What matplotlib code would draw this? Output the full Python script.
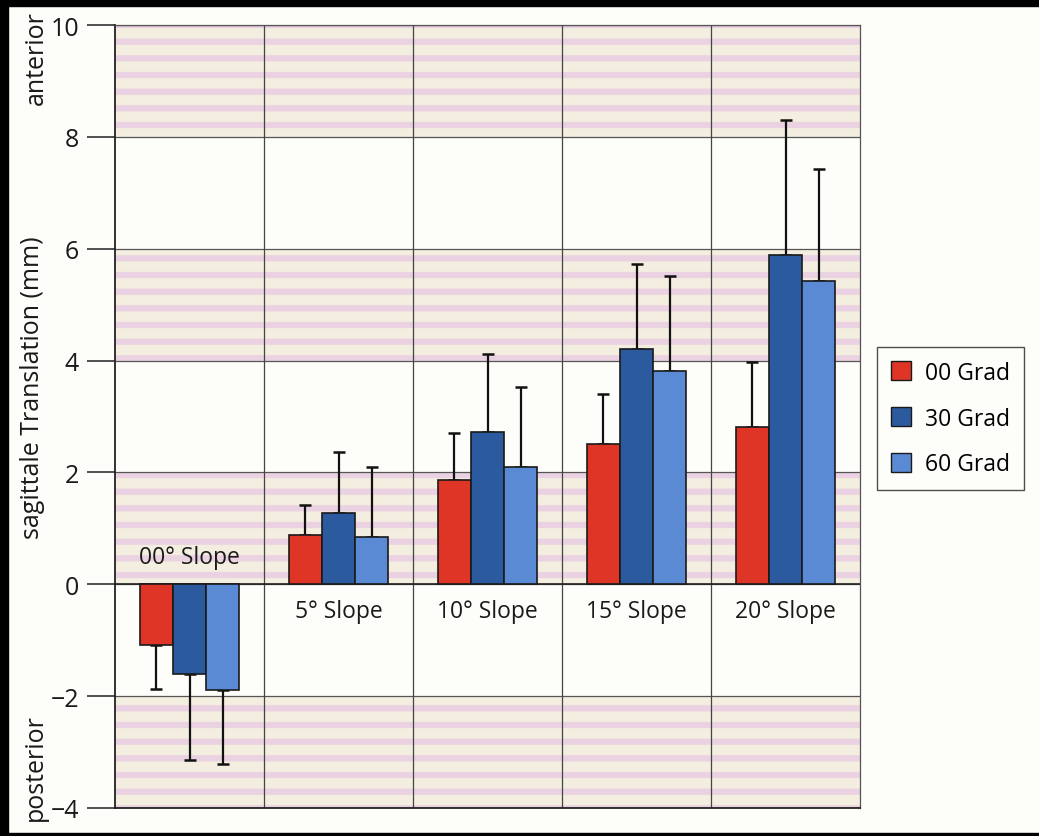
import matplotlib.pyplot as plt
import numpy as np
from matplotlib.patches import Patch, Rectangle

plt.rcParams["font.family"] = ["Open Sans", "DejaVu Sans"]
plt.rcParams["hatch.linewidth"] = 4.5

categories = ["00° Slope", "5° Slope", "10° Slope", "15° Slope", "20° Slope"]
series = ["00 Grad", "30 Grad", "60 Grad"]
means_00 = [-1.09, 0.89, 1.87, 2.51, 2.82]
means_30 = [-1.60, 1.27, 2.73, 4.21, 5.88]
means_60 = [-1.89, 0.84, 2.09, 3.81, 5.42]
sd_00 = [0.78, 0.52, 0.84, 0.89, 1.16]
sd_30 = [1.55, 1.10, 1.39, 1.51, 2.43]
sd_60 = [1.33, 1.26, 1.44, 1.70, 2.01]
colors = ["#de3526", "#2b5a9e", "#5a8ad4"]
yticks = [-4, -2, 0, 2, 4, 6, 8, 10]

fig = plt.figure(figsize=(10.39, 8.37), dpi=100, facecolor="#fdfdf9")
ax = fig.add_axes([115 / 1039, 28 / 837, 745 / 1039, 783 / 837])
ax.set_facecolor("#fdfdf9")

# striped bands every other interval
for lo, hi in zip(yticks[:-1], yticks[1:]):
    if (lo // 2) % 2 == 0:
        ax.axhspan(lo, hi, facecolor="#f4eee0", edgecolor="#ebd2e2", hatch="-", linewidth=0, zorder=0)

x = np.arange(len(categories))
width = 0.222
for i, (means, sds) in enumerate(zip([means_00, means_30, means_60], [sd_00, sd_30, sd_60])):
    means = np.array(means)
    sds = np.array(sds)
    lower = np.where(means < 0, sds, 0)
    upper = np.where(means >= 0, sds, 0)
    ax.bar(x + (i - 1) * width, means, width, color=colors[i], edgecolor="#1a1a1a", linewidth=1.2,
           yerr=[lower, upper], zorder=3,
           error_kw=dict(ecolor="#111111", elinewidth=1.6, capsize=4, capthick=1.8, zorder=2))

for xi, name, m in zip(x, categories, means_00):
    if m < 0:
        ax.text(xi, 0.48, name, ha="center", va="center", fontsize=16.5, color="#1a1a1a", zorder=4)
    else:
        ax.text(xi, -0.48, name, ha="center", va="center", fontsize=16.5, color="#1a1a1a", zorder=4)

ax.set_xlim(-0.5, len(categories) - 0.5)
ax.set_ylim(-4, 10)
ax.set_xticks([])
ax.set_yticks(yticks)
ax.set_yticklabels([str(t).replace("-", "\u2212") for t in yticks], fontsize=18, color="#1a1a1a")
ax.tick_params(axis="y", length=20, width=1.2, pad=6, color="#333333")

for y in yticks:
    ax.axhline(y, color="#555555", linewidth=0.9, zorder=1)
for b in np.arange(0.5, len(categories) - 0.5):
    ax.axvline(b, color="#444444", linewidth=0.9, zorder=1)
ax.axhline(0, color="#222222", linewidth=1.2, zorder=2)

for side in ["left", "bottom"]:
    ax.spines[side].set_color("#222222")
    ax.spines[side].set_linewidth(1.3)
for side in ["top", "right"]:
    ax.spines[side].set_color("#555555")
    ax.spines[side].set_linewidth(0.9)

fig.text(33 / 1039, 1 - 388 / 837, "sagittale Translation (mm)", rotation=90, ha="center", va="center",
         fontsize=18, color="#1a1a1a")
fig.text(36 / 1039, 1 - 58 / 837, "anterior", rotation=90, ha="center", va="center", fontsize=18, color="#1a1a1a")
fig.text(35 / 1039, 1 - 768 / 837, "posterior", rotation=90, ha="center", va="center", fontsize=18,
         color="#1a1a1a")

handles = [Patch(facecolor=c, edgecolor="#1a1a1a", linewidth=1.0) for c in colors]
leg = fig.legend(handles, series, loc="upper left", bbox_to_anchor=(877 / 1039, 1 - 348 / 837),
                 frameon=True, fancybox=False, fontsize=16.5, handlelength=0.9, handleheight=0.9,
                 labelspacing=0.95, borderpad=0.6, handletextpad=0.6, borderaxespad=0)
leg.get_frame().set_edgecolor("#222222")
leg.get_frame().set_linewidth(1.0)
leg.get_frame().set_facecolor("#fdfdf9")

# black scan border
fig.patches.append(Rectangle((0, 1 - 7 / 837), 1, 7 / 837, transform=fig.transFigure, color="black"))
fig.patches.append(Rectangle((0, 0), 8 / 1039, 1, transform=fig.transFigure, color="black"))
fig.patches.append(Rectangle((0, 0), 1, 3 / 837, transform=fig.transFigure, color="black"))

fig.savefig("out.png", dpi=100, facecolor=fig.get_facecolor())
